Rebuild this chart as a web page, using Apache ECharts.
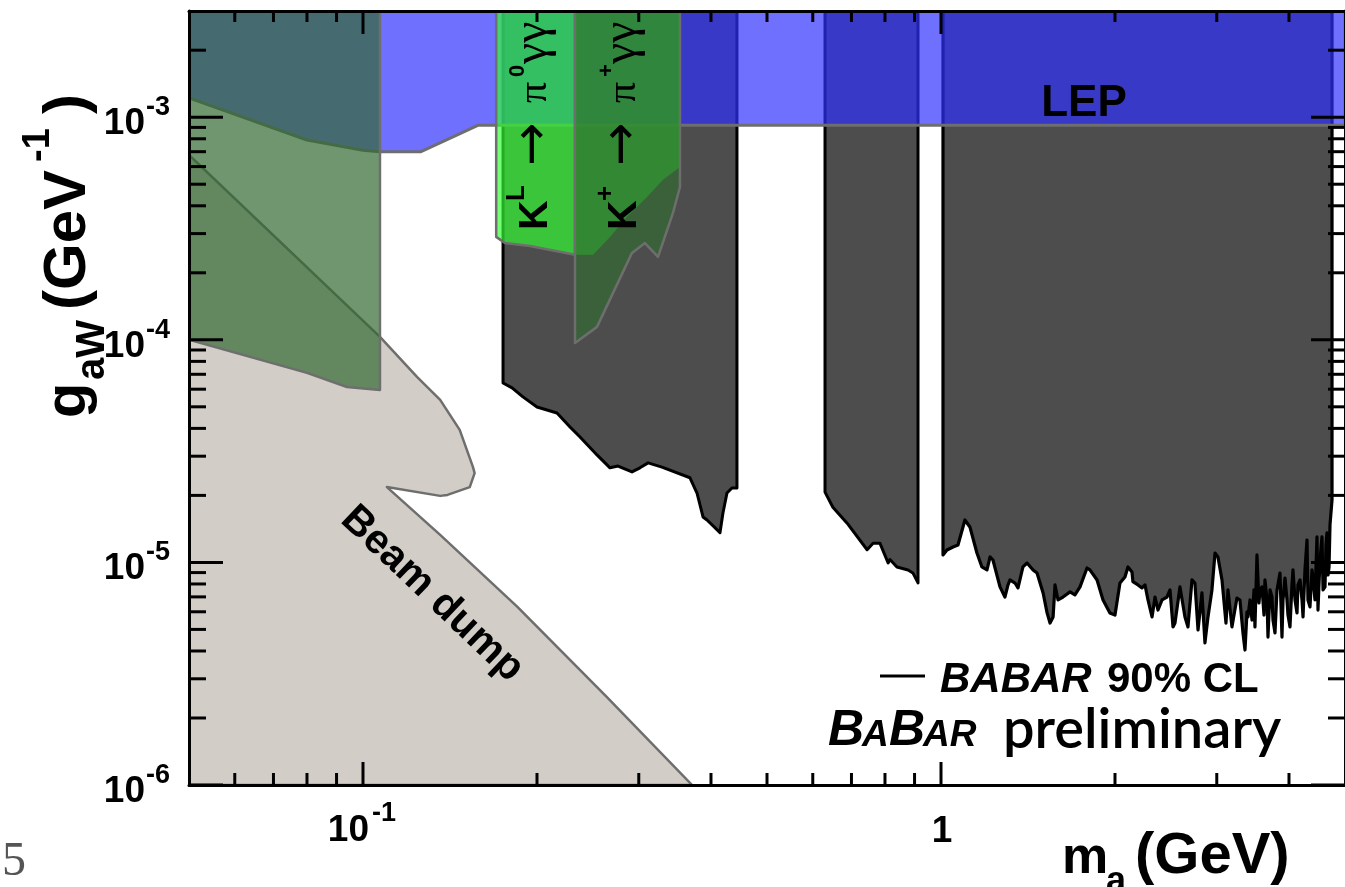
<!DOCTYPE html>
<html>
<head>
<meta charset="utf-8">
<title>g_aW vs m_a</title>
<script src="https://cdn.jsdelivr.net/npm/echarts@6.0.0/dist/echarts.min.js"></script>
<style>
html, body { margin: 0; padding: 0; background: #fff; }
#chart { width: 1345px; height: 887px; }
</style>
</head>
<body>
<div id="chart"></div>
<script>
// ---- axis extents ----
const massRange = [0.05, 5];          // m_a (GeV)
const couplingRange = [1e-6, 3e-3];   // g_aW (GeV^-1)

// ---- ticks ----
const xMajorTicks = [0.1, 1];
const xMinorTicks = [0.06, 0.07, 0.08, 0.09, 0.2, 0.3, 0.4, 0.5, 0.6, 0.7, 0.8, 0.9, 2, 3, 4];
const yMajorTicks = [1e-6, 1e-5, 1e-4, 1e-3];
const yMinorTicks = [
  2e-6, 3e-6, 4e-6, 5e-6, 6e-6, 7e-6, 8e-6, 9e-6,
  2e-5, 3e-5, 4e-5, 5e-5, 6e-5, 7e-5, 8e-5, 9e-5,
  2e-4, 3e-4, 4e-4, 5e-4, 6e-4, 7e-4, 8e-4, 9e-4,
  2e-3
];
const xTickLabels = [['10', '-1'], ['1', '']];
const yTickLabels = [['10', '-6'], ['10', '-5'], ['10', '-4'], ['10', '-3']];

// ---- excluded regions: [m_a (GeV), g_aW (GeV^-1)] ----
// beam dump: upper/right outline, closed along the lower-left corner
const beamDumpEdge = [
  [0.05, 6.77e-4], [0.107, 1.03e-4], [0.124, 6.81e-5], [0.136, 5.37e-5],
  [0.147, 3.94e-5], [0.155, 2.68e-5], [0.156, 2.52e-5], [0.153, 2.18e-5],
  [0.140, 2.01e-5], [0.136, 1.99e-5], [0.110, 2.18e-5], [0.136, 1.33e-5],
  [0.185, 6.31e-6], [0.264, 2.49e-6], [0.371, 1.0e-6]
];
// low-mass green band: lower edge (extends to the top of the plot)
const greenLowEdge = [[0.05, 1.0e-4], [0.080, 7.1e-5], [0.0938, 6.14e-5], [0.107, 5.95e-5]];
// LEP: lower edge
const lepEdge = [
  [0.05, 1.22e-3], [0.080, 7.9e-4], [0.1, 7.1e-4], [0.107, 7.0e-4],
  [0.126, 7.0e-4], [0.158, 9.2e-4], [5, 9.2e-4]
];
// K_L -> pi0 gamma gamma: lower edge
const kLongEdge = [[0.170, 2.90e-4], [0.176, 2.72e-4], [0.1945, 2.64e-4], [0.2327, 2.41e-4]];
// K+ -> pi+ gamma gamma: outer and inner lower edges
const kPlusOuterEdge = [
  [0.2327, 9.68e-5], [0.254, 1.143e-4], [0.292, 2.457e-4], [0.3075, 2.72e-4],
  [0.3239, 2.357e-4], [0.3438, 3.72e-4], [0.3535, 4.86e-4]
];
const kPlusInnerEdge = [
  [0.2327, 2.41e-4], [0.250, 2.41e-4], [0.2675, 2.90e-4], [0.2862, 3.565e-4],
  [0.310, 4.38e-4], [0.3304, 5.23e-4], [0.3535, 5.98e-4]
];
// BABAR 90% CL upper limits, three mass windows
const babarLow = [
  [0.1747, 6.40e-5], [0.1811, 6.08e-5], [0.1891, 5.54e-5], [0.2000, 4.99e-5],
  [0.2166, 4.69e-5], [0.2281, 4.06e-5], [0.2374, 3.66e-5], [0.2540, 3.04e-5],
  [0.2675, 2.66e-5], [0.2762, 2.71e-5], [0.2920, 2.55e-5], [0.3014, 2.66e-5],
  [0.3113, 2.80e-5], [0.3291, 2.68e-5], [0.3679, 2.40e-5], [0.3783, 2.05e-5],
  [0.3875, 1.60e-5], [0.3937, 1.55e-5], [0.4146, 1.36e-5], [0.4196, 1.67e-5],
  [0.4263, 2.05e-5], [0.4348, 2.16e-5], [0.4436, 2.16e-5]
];
const babarMid = [
  [0.630, 2.07e-5], [0.650, 1.77e-5], [0.688, 1.50e-5], [0.745, 1.14e-5],
  [0.763, 1.22e-5], [0.784, 1.22e-5], [0.810, 9.94e-6], [0.816, 1.03e-5],
  [0.839, 9.54e-6], [0.877, 9.25e-6], [0.894, 8.97e-6], [0.9125, 8.09e-6]
];
const babarHigh = [
  [1.008, 1.080e-5], [1.024, 1.137e-5], [1.049, 1.173e-5], [1.070, 1.197e-5],
  [1.100, 1.551e-5], [1.122, 1.443e-5], [1.154, 1.102e-5], [1.177, 9.54e-6],
  [1.201, 9.25e-6], [1.216, 1.058e-5], [1.230, 1.025e-5], [1.265, 7.76e-6],
  [1.290, 6.99e-6], [1.306, 7.92e-6], [1.316, 8.34e-6], [1.343, 8.08e-6],
  [1.359, 7.68e-6], [1.386, 9.54e-6], [1.409, 9.94e-6], [1.443, 9.25e-6],
  [1.466, 8.96e-6], [1.502, 7.29e-6], [1.526, 5.93e-6], [1.544, 5.34e-6],
  [1.563, 5.69e-6], [1.575, 7.92e-6], [1.594, 6.78e-6], [1.626, 6.99e-6],
  [1.672, 7.37e-6], [1.705, 7.14e-6], [1.740, 7.76e-6], [1.789, 9.44e-6],
  [1.810, 9.25e-6], [1.862, 8.34e-6], [1.907, 6.78e-6], [1.960, 5.93e-6],
  [2.000, 5.80e-6], [2.040, 8.08e-6], [2.081, 8.60e-6], [2.106, 9.54e-6],
  [2.140, 9.06e-6], [2.148, 8.20e-6], [2.192, 7.92e-6], [2.227, 7.68e-6],
  [2.254, 7.92e-6], [2.281, 6.78e-6], [2.318, 5.69e-6], [2.346, 6.99e-6],
  [2.374, 6.11e-6], [2.412, 6.78e-6], [2.460, 6.99e-6], [2.490, 7.52e-6],
  [2.520, 5.13e-6], [2.540, 5.34e-6], [2.591, 7.76e-6], [2.643, 5.69e-6],
  [2.675, 5.13e-6], [2.718, 8.34e-6], [2.750, 8.08e-6], [2.784, 4.97e-6],
  [2.828, 7.29e-6], [2.862, 4.35e-6], [2.897, 5.69e-6], [2.943, 7.52e-6],
  [2.979, 1.102e-5], [3.014, 1.058e-5], [3.063, 8.34e-6], [3.112, 5.34e-6],
  [3.137, 7.52e-6], [3.187, 5.13e-6], [3.251, 6.92e-6], [3.290, 6.78e-6],
  [3.330, 4.82e-6], [3.357, 4.04e-6], [3.384, 5.99e-6], [3.397, 5.69e-6],
  [3.425, 6.78e-6], [3.452, 5.51e-6], [3.480, 7.52e-6], [3.493, 5.13e-6],
  [3.521, 1.080e-5], [3.549, 6.57e-6], [3.564, 7.52e-6], [3.592, 7.76e-6],
  [3.621, 5.80e-6], [3.635, 8.34e-6], [3.665, 6.78e-6], [3.679, 4.62e-6],
  [3.709, 7.52e-6], [3.738, 6.99e-6], [3.753, 5.51e-6], [3.783, 4.82e-6],
  [3.814, 7.52e-6], [3.859, 8.96e-6], [3.890, 4.62e-6], [3.906, 6.78e-6],
  [3.937, 8.51e-6], [3.968, 6.78e-6], [3.984, 5.80e-6], [4.016, 5.13e-6],
  [4.048, 7.92e-6], [4.064, 9.25e-6], [4.097, 6.78e-6], [4.130, 5.93e-6],
  [4.146, 7.92e-6], [4.180, 8.34e-6], [4.213, 6.78e-6], [4.230, 5.69e-6],
  [4.263, 9.25e-6], [4.298, 1.261e-5], [4.314, 6.78e-6], [4.349, 6.31e-6],
  [4.384, 9.25e-6], [4.402, 8.60e-6], [4.436, 6.78e-6], [4.472, 1.301e-5],
  [4.490, 6.11e-6], [4.526, 1.025e-5], [4.562, 1.301e-5], [4.581, 7.52e-6],
  [4.617, 7.76e-6], [4.636, 1.197e-5], [4.654, 1.356e-5], [4.673, 8.78e-6],
  [4.692, 9.54e-6], [4.710, 1.473e-5], [4.748, 1.908e-5]
];

// ---- build polygons ----
const gTop = couplingRange[1];
const closeToTop = edge => [[edge[0][0], gTop]].concat(edge, [[edge[edge.length - 1][0], gTop]]);
const beamDumpPoly = beamDumpEdge.concat([[massRange[0], couplingRange[0]]]);

const FONT = '"Liberation Sans", Arial, Helvetica, sans-serif';
const SERIF = '"Liberation Serif", "Times New Roman", serif';

function polygonSeries(points, fill, stroke, lineWidth, z) {
  return {
    type: 'custom',
    coordinateSystem: 'cartesian2d',
    xAxisIndex: 0, yAxisIndex: 0,
    z: z, clip: true, silent: true, animation: false,
    data: [[massRange[0], couplingRange[0]]],
    renderItem: function (params, api) {
      return {
        type: 'polygon',
        shape: { points: points.map(p => api.coord(p)) },
        style: { fill: fill, stroke: stroke || 'none', lineWidth: lineWidth || 0, lineJoin: 'round' }
      };
    }
  };
}

// text whose alphabetic baseline sits at y = base
function txt(str, x, base, size, o) {
  o = o || {};
  return {
    type: 'text', x: x, y: base - 0.31 * size, silent: true, z: 100,
    style: {
      text: str, fill: o.color || '#000',
      font: (o.style || 'normal') + ' ' + (o.weight || 'bold') + ' ' + size + 'px ' + (o.family || FONT),
      align: o.align || 'left', verticalAlign: 'middle'
    }
  };
}

// frame ticks and tick labels, placed through the axis scales
function renderFrame(params, api) {
  const ch = [];
  const lo = api.coord([massRange[0], couplingRange[0]]);
  const hi = api.coord([massRange[1], couplingRange[1]]);
  const xL = lo[0], yB = lo[1], xR = hi[0], yT = hi[1];
  const seg = (x1, y1, x2, y2) => ch.push({
    type: 'line', shape: { x1: x1, y1: y1, x2: x2, y2: y2 },
    style: { stroke: '#000', lineWidth: 3 }
  });
  xMajorTicks.forEach(v => { const x = api.coord([v, gTop])[0]; seg(x, yB, x, yB - 23); seg(x, yT, x, yT + 23); });
  xMinorTicks.forEach(v => { const x = api.coord([v, gTop])[0]; seg(x, yB, x, yB - 12); seg(x, yT, x, yT + 11); });
  yMajorTicks.forEach(v => { const y = api.coord([1, v])[1]; seg(xL, y, xL + 34, y); seg(xR, y, xR - 34, y); });
  yMinorTicks.forEach(v => { const y = api.coord([1, v])[1]; seg(xL, y, xL + 17, y); seg(xR, y, xR - 17, y); });

  xMajorTicks.forEach((v, i) => {
    const x = api.coord([v, gTop])[0];
    const lab = xTickLabels[i];
    if (lab[1]) {
      ch.push(txt(lab[0], x + 6, yB + 57, 37, { align: 'right' }));
      ch.push(txt(lab[1], x + 9, yB + 37, 27));
    } else {
      ch.push(txt(lab[0], x + 1, yB + 58, 37, { align: 'center' }));
    }
  });
  yMajorTicks.forEach((v, i) => {
    const y = api.coord([1, v])[1];
    const lab = yTickLabels[i];
    ch.push(txt(lab[0], xL - 44, y + 18, 37, { align: 'right' }));
    ch.push(txt(lab[1], xL - 43, y - 1, 27));
  });
  return { type: 'group', children: ch };
}

const series = [
  polygonSeries(beamDumpPoly, '#d3cdc7', '#6e6e6e', 2.5, 2),
  polygonSeries(closeToTop(babarLow), '#4d4d4d', '#000', 3, 3),
  polygonSeries(closeToTop(babarMid), '#4d4d4d', '#000', 3, 3),
  polygonSeries(closeToTop(babarHigh), '#4d4d4d', '#000', 3.2, 3),
  polygonSeries(closeToTop(lepEdge), 'rgba(48,48,255,0.69)', '#6e6e6e', 3, 4),
  polygonSeries(closeToTop(greenLowEdge), 'rgba(51,105,51,0.7)', '#6e6e6e', 2.5, 5),
  polygonSeries(closeToTop(kLongEdge), 'rgba(52,255,52,0.68)', '#6e6e6e', 2.5, 6),
  polygonSeries(closeToTop(kPlusOuterEdge), 'rgba(51,105,51,0.7)', '#6e6e6e', 2.5, 7),
  polygonSeries(closeToTop(kPlusInnerEdge), 'rgba(49,153,49,0.7)', null, 0, 8),
  {
    type: 'custom', coordinateSystem: 'cartesian2d', xAxisIndex: 0, yAxisIndex: 0,
    z: 20, clip: false, silent: true, animation: false,
    data: [[massRange[0], couplingRange[0]]],
    renderItem: renderFrame
  }
];

const frameLine = { show: true, onZero: false, lineStyle: { color: '#000', width: 3 } };
const hiddenBits = { axisTick: { show: false }, axisLabel: { show: false }, splitLine: { show: false } };
function logAxis(pos, range) {
  return Object.assign({
    type: 'log', logBase: 10, position: pos, min: range[0], max: range[1],
    axisLine: frameLine, z: 15
  }, hiddenBits);
}

// rotated decay-channel label: K, superscript, arrow, pi, superscript, gamma gamma
function decayLabel(x, y, sup1, sup2) {
  return {
    type: 'group', x: x, y: y, rotation: Math.PI / 2, silent: true,
    children: [
      txt('K', 0, 0, 41),
      txt(sup1, 29, -23, 26),
      txt('\u2192', 64, 3, 52, { weight: 'normal', family: '"DejaVu Sans", sans-serif' }),
      txt('\u03c0', 127, 0, 42, { weight: 'normal', family: SERIF }),
      txt(sup2, 153, -23, 22),
      txt('\u03b3\u03b3', 166, 0, 48, { weight: 'normal', family: SERIF })
    ]
  };
}

const graphics = [
  txt('LEP', 1084, 117, 44, { align: 'center' }),
  {
    type: 'group', x: 433, y: 593, rotation: -0.761, silent: true,
    children: [txt('Beam dump', 0, 14, 41, { align: 'center' })]
  },
  decayLabel(548, 230, 'L', '0'),
  decayLabel(637, 230, '+', '+'),
  // axis titles
  txt('m', 1062, 875, 52),
  txt('a', 1106, 893, 36),
  txt('(GeV)', 1135, 875, 58),
  {
    type: 'group', x: 87, y: 418, rotation: Math.PI / 2, silent: true,
    children: [
      txt('g', 0, 0, 58),
      txt('aW', 38, 18, 40),
      txt('(GeV', 108, 0, 60),
      txt('-1', 256, -37, 38),
      txt(')', 304, 0, 60)
    ]
  },
  // legend
  { type: 'line', shape: { x1: 880, y1: 676, x2: 925, y2: 676 }, style: { stroke: '#000', lineWidth: 3 }, silent: true },
  txt('BABAR', 940, 693, 42, { style: 'italic' }),
  txt('90% CL', 1107, 693, 42),
  txt('B', 828, 747, 50, { style: 'italic' }),
  txt('A', 862, 747, 37, { style: 'italic' }),
  txt('B', 889, 747, 50, { style: 'italic' }),
  txt('AR', 923, 747, 37, { style: 'italic' }),
  txt('preliminary', 1003, 747, 56, { family: 'Lato, "Open Sans", sans-serif', weight: '600' }),
  // page number
  txt('5', 2, 877, 48, { weight: 'normal', family: SERIF, color: '#555' })
].map(el => Object.assign({ z: 100 }, el));

const chart = echarts.init(document.getElementById('chart'), null, { renderer: 'canvas', width: 1345, height: 887 });
chart.setOption({
  animation: false,
  backgroundColor: '#fff',
  grid: { left: 189, right: 0, top: 11, bottom: 102, containLabel: false },
  xAxis: [logAxis('bottom', massRange), logAxis('top', massRange)],
  yAxis: [logAxis('left', couplingRange), logAxis('right', couplingRange)],
  series: series,
  graphic: { elements: graphics }
});
</script>
</body>
</html>
